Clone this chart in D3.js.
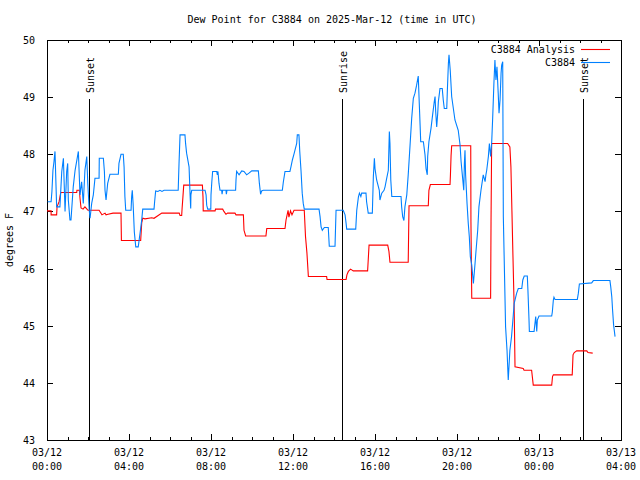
<!DOCTYPE html>
<html><head><meta charset="utf-8">
<script src="https://cdn.jsdelivr.net/npm/d3@7"></script>
<style>body{margin:0;background:#fff}text{font-family:"DejaVu Sans Mono","Liberation Mono",monospace;font-size:10px;fill:#000}</style>
</head><body><svg id="c" width="640" height="480"></svg>
<script>
const title = "Dew Point for C3884 on 2025-Mar-12 (time in UTC)";
const yLabel = "degrees F";
const seriesNames = ["C3884 Analysis", "C3884"];
const seriesColors = ["#ff0000", "#0080ff"];
// x in hours since 03/12 00:00 UTC
const xTickHours = [0, 4, 8, 12, 16, 20, 24, 28];
const xTickDates = ["03/12","03/12","03/12","03/12","03/12","03/12","03/13","03/13"];
const xTickTimes = ["00:00","04:00","08:00","12:00","16:00","20:00","00:00","04:00"];
const yTicks = [43, 44, 45, 46, 47, 48, 49, 50];
const sunNames = ["Sunset", "Sunrise", "Sunset"];
const sunHours = [2.06, 14.4, 26.16];

const analysisHours = [0,0.2,0.2,0.47,0.49,0.59,0.67,1.45,1.46,1.58,1.61,1.66,1.76,1.85,1.95,2.0,2.54,2.68,2.83,2.88,2.98,3.22,3.61,3.63,4.57,4.62,4.67,4.78,5.11,5.22,5.6,6.45,6.49,6.57,6.59,6.63,6.67,7.58,7.61,7.62,8.2,8.22,8.57,8.63,8.73,8.81,9.17,9.22,9.58,9.61,9.69,10.68,10.72,11.61,11.66,11.76,11.8,11.88,11.95,12.05,12.55,12.61,12.68,12.75,13.64,13.66,14.59,14.63,14.7,14.81,14.94,15.64,15.71,16.62,16.68,16.73,17.62,17.66,18.6,18.63,18.7,19.66,19.68,19.71,19.74,20.67,20.68,20.72,21.64,21.66,21.69,22.47,22.58,22.63,22.68,22.73,22.78,22.8,22.83,23.23,23.27,23.64,23.72,24.62,24.66,24.7,25.62,25.66,25.72,25.84,26.33,26.39,26.62];
const analysisValues = [47.01,47.01,46.94,46.94,47.08,47.17,47.33,47.33,47.37,47.37,47.23,47.06,47.04,47.08,47.04,47.02,47.02,46.94,46.97,46.94,46.95,46.97,46.97,46.49,46.49,46.8,46.88,46.87,46.89,46.88,46.97,46.97,46.93,46.93,47.05,47.25,47.46,47.46,47.25,47.01,47.01,47.04,47.04,47.0,46.95,46.97,46.97,46.94,46.94,46.67,46.57,46.57,46.7,46.7,46.85,47.02,46.9,47.01,46.94,47.02,47.02,46.56,46.27,45.86,45.86,45.81,45.81,45.89,45.95,45.99,45.96,45.96,46.41,46.41,46.3,46.11,46.11,47.1,47.1,47.37,47.47,47.47,47.64,47.97,48.15,48.15,46.82,45.48,45.48,46.82,48.19,48.19,48.13,47.78,47.0,46.21,45.45,45.04,44.28,44.25,44.22,44.22,43.96,43.96,44.11,44.14,44.14,44.49,44.53,44.56,44.56,44.53,44.52];

const obsHours = [0.03,0.2,0.24,0.29,0.34,0.39,0.47,0.63,0.72,0.8,0.88,0.96,1.01,1.04,1.12,1.17,1.28,1.37,1.53,1.61,1.69,1.77,1.85,1.94,1.99,2.06,2.1,2.18,2.26,2.34,2.54,2.55,2.75,2.8,2.83,2.88,2.96,3.07,3.48,3.51,3.61,3.72,3.76,3.8,3.84,4.1,4.13,4.16,4.2,4.26,4.33,4.45,4.54,4.62,4.67,5.22,5.25,5.3,5.41,5.51,5.61,5.71,6.4,6.44,6.49,6.73,6.76,6.81,6.93,6.98,7.01,7.02,7.06,7.71,7.76,7.79,7.84,7.99,8.0,8.04,8.08,8.28,8.31,8.34,8.39,8.44,8.52,8.54,8.57,8.73,8.75,8.78,9.2,9.22,9.25,9.37,9.5,9.61,9.74,9.85,9.99,10.31,10.36,10.42,10.47,10.55,11.48,11.53,11.61,11.85,11.9,11.97,12.06,12.18,12.21,12.29,12.33,12.39,12.45,12.5,12.55,13.27,13.32,13.37,13.43,13.53,13.72,13.77,14.05,14.1,14.45,14.54,14.59,14.62,15.06,15.11,15.19,15.24,15.31,15.35,15.56,15.59,15.67,15.87,15.92,15.97,16.0,16.08,16.21,16.24,16.33,16.44,16.49,16.57,16.65,16.7,16.73,16.77,16.82,17.27,17.3,17.35,17.41,17.46,17.55,17.62,17.71,17.79,17.87,17.95,18.03,18.11,18.16,18.2,18.23,18.36,18.44,18.49,18.55,18.57,18.63,18.73,18.8,18.89,18.93,18.96,19.01,19.06,19.09,19.17,19.28,19.33,19.38,19.5,19.53,19.58,19.61,19.67,19.74,19.9,20.06,20.15,20.2,20.26,20.33,20.36,20.39,20.42,20.49,20.55,20.6,20.65,20.72,20.8,20.88,20.93,21.01,21.07,21.17,21.28,21.37,21.41,21.45,21.53,21.58,21.64,21.69,21.74,21.8,21.85,21.9,21.95,22.01,22.05,22.1,22.15,22.18,22.23,22.26,22.37,22.44,22.5,22.58,22.66,22.74,22.79,22.91,22.99,23.16,23.21,23.28,23.43,23.46,23.51,23.53,23.76,23.84,23.89,23.92,24.0,24.62,24.65,24.7,24.73,24.78,25.87,25.92,25.97,26.57,26.65,27.46,27.5,27.55,27.59,27.64,27.71];
const obsValues = [47.17,47.17,47.35,47.72,47.87,48.05,47.08,47.08,47.7,47.93,47.0,47.7,47.84,47.2,46.85,46.85,47.43,47.72,48.05,47.29,47.52,47.14,47.72,47.96,47.49,47.02,46.88,47.14,47.29,47.58,47.58,47.93,47.93,47.7,47.37,47.2,47.49,47.65,47.65,47.84,48.0,48.0,47.78,47.26,47.02,47.02,47.26,47.37,47.14,46.64,46.38,46.38,46.62,46.85,47.04,47.04,47.17,47.36,47.35,47.37,47.35,47.37,47.37,47.84,48.34,48.34,48.19,48.02,47.78,47.29,47.05,47.29,47.37,47.37,47.29,47.11,47.04,47.04,47.29,47.52,47.7,47.7,47.64,47.7,47.49,47.37,47.37,47.3,47.37,47.37,47.3,47.37,47.37,47.55,47.7,47.64,47.71,47.7,47.64,47.67,47.71,47.71,47.49,47.3,47.36,47.37,47.37,47.52,47.7,47.7,47.78,47.9,48.02,48.19,48.34,48.34,48.05,47.72,47.32,47.14,47.04,47.04,46.91,46.73,46.67,46.72,46.72,46.39,46.39,47.02,47.02,46.94,46.79,46.69,46.69,47.02,47.25,47.32,47.26,47.32,47.32,47.17,46.97,46.97,47.61,47.93,47.75,47.55,47.37,47.2,47.32,47.37,47.43,47.58,47.72,48.4,48.19,47.55,47.26,47.26,47.08,46.91,46.84,47.08,47.29,47.64,48.16,48.63,48.98,49.07,49.21,49.37,48.89,48.51,48.22,48.22,47.99,47.75,47.64,47.96,48.22,48.45,48.66,48.92,49.01,48.75,48.48,48.72,48.92,49.15,49.15,48.95,48.8,48.8,49.12,49.59,49.74,49.47,49.01,48.6,48.42,48.16,47.87,47.64,47.37,47.84,48.07,47.64,47.14,46.79,46.56,46.21,46.06,45.74,46.09,46.32,46.67,47.08,47.37,47.64,47.52,47.64,47.72,47.96,48.19,47.96,48.19,48.63,49.24,49.65,49.3,49.53,49.07,48.72,48.95,49.42,49.56,49.62,46.91,44.98,44.57,44.05,44.57,44.81,45.16,45.39,45.57,45.65,45.65,45.8,45.87,45.87,45.62,45.13,44.9,44.9,45.16,44.9,45.1,45.17,45.17,45.24,45.45,45.5,45.46,45.46,45.57,45.73,45.75,45.79,45.79,45.68,45.51,45.27,45.01,44.81];

const L = 47, R = 621, T = 40, B = 440;
const svg = d3.select("#c");
const x = d3.scaleLinear().domain([0, 28]).range([L, R]);
const y = d3.scaleLinear().domain([43, 50]).range([B, T]);

svg.append("text").attr("x", 332).attr("y", 20).attr("text-anchor", "middle").attr("dominant-baseline", "middle").text(title);
svg.append("text").attr("transform", "translate(10,240) rotate(-90)").attr("text-anchor", "middle").attr("dominant-baseline", "middle").text(yLabel);

const minorHours = d3.range(0, 29, 1).filter(h => h % 4 !== 0);
[[d3.axisBottom, B], [d3.axisTop, T]].forEach(([gen, ty]) => {
  const g = svg.append("g").attr("transform", `translate(0,${ty})`);
  g.append("g").call(gen(x).tickValues(minorHours).tickSize(-3).tickFormat(""));
  g.append("g").call(gen(x).tickValues(xTickHours).tickSize(-6).tickFormat(""));
});
const yl = svg.append("g").attr("transform", `translate(${L},0)`)
  .call(d3.axisLeft(y).tickValues(yTicks).tickSize(-6).tickPadding(12).tickFormat(d3.format("d")));
svg.append("g").attr("transform", `translate(${R},0)`)
  .call(d3.axisRight(y).tickValues(yTicks).tickSize(-6).tickFormat(""));
svg.selectAll(".domain").remove();
svg.selectAll(".tick line").attr("stroke", "#000").attr("shape-rendering", "crispEdges");
yl.selectAll("text").attr("font-size", null).attr("font-family", null).attr("dy", "0.35em");

// x labels
const xl = svg.append("g");
xTickHours.forEach((h, i) => {
  xl.append("text").attr("x", x(h)).attr("y", 456).attr("text-anchor", "middle").text(xTickDates[i]);
  xl.append("text").attr("x", x(h)).attr("y", 470).attr("text-anchor", "middle").text(xTickTimes[i]);
});

// frame
svg.append("rect").attr("x", L + 0.5).attr("y", T + 0.5).attr("width", R - L).attr("height", B - T)
  .attr("fill", "none").attr("stroke", "#000").attr("shape-rendering", "crispEdges");

// sun events
sunHours.forEach((h, i) => {
  const px = Math.round(x(h)) + 0.5;
  svg.append("line").attr("x1", px).attr("x2", px).attr("y1", 99).attr("y2", B)
    .attr("stroke", "#000").attr("shape-rendering", "crispEdges");
  svg.append("text").attr("transform", `translate(${px + 1},93) rotate(-90)`)
    .attr("text-anchor", "start").attr("dominant-baseline", "middle").text(sunNames[i]);
});

const line = d3.line().x(d => x(d[0])).y(d => y(d[1]));
const series = [d3.zip(analysisHours, analysisValues), d3.zip(obsHours, obsValues)];
series.forEach((s, i) => {
  svg.append("path").datum(s).attr("d", line).attr("fill", "none")
    .attr("stroke", seriesColors[i]).attr("stroke-width", 1.1);
});

// legend
seriesNames.forEach((n, i) => {
  const ly = 50 + i * 13;
  svg.append("text").attr("x", 575).attr("y", ly).attr("text-anchor", "end").attr("dominant-baseline", "middle").text(n);
  svg.append("line").attr("x1", 581).attr("x2", 610).attr("y1", ly - 0.5).attr("y2", ly - 0.5)
    .attr("stroke", seriesColors[i]).attr("stroke-width", 1.1);
});
</script></body></html>
